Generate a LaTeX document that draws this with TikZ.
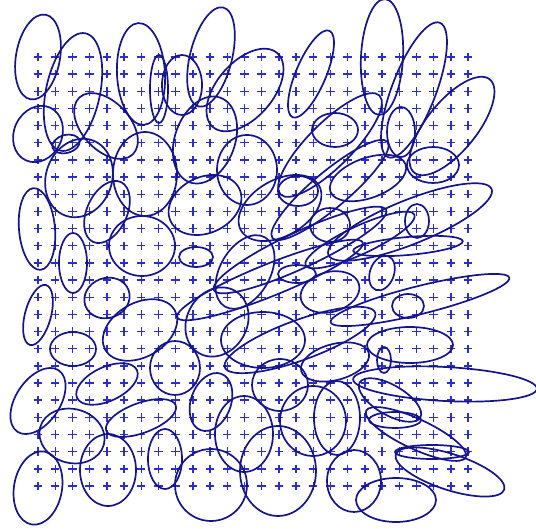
\documentclass[tikz,border=0pt]{standalone}
\usepackage{tikz}
\definecolor{plusblue}{RGB}{45,45,200}
\definecolor{ellnavy}{RGB}{20,20,140}
\tikzset{
  plusmark/.style={draw=plusblue, line width=1.4pt},
  ell/.style={draw=ellnavy, line width=1.7pt},
}
\newcommand{\E}[5]{\draw[ell, rotate around={-#5:(#1,#2)}] (#1,#2) ellipse [x radius=#3, y radius=#4];}
\begin{document}
\begin{tikzpicture}[x=1pt,y=-1pt]
\useasboundingbox (0,0) rectangle (536,529);
\foreach \i in {0,...,25}{
  \foreach \j in {0,...,25}{
    \draw[plusmark] ({38+17.2*\i-4.2},{57+17.16*\j}) -- ++(8.4,0)
                    ({38+17.2*\i},{57+17.16*\j-4.2}) -- ++(0,8.4);
  }
}
% top band
\E{38}{57}{22}{43}{10}
\E{73}{92}{27}{60}{12}
\E{38}{134}{24}{29}{25}
\E{106}{126}{39}{24}{47}
\E{141}{74}{24}{51}{-3}
\E{159}{89}{9}{34}{0}
\E{66}{144}{14}{9}{-15}
\E{79}{178}{33}{40}{20}
\E{145}{174}{32}{42}{0}
\E{182}{85}{20}{30}{0}
\E{211}{57}{21}{51}{14}
\E{245}{90}{49}{28}{-49}
\E{311}{74}{47}{15}{-67}
\E{335}{130}{23}{17}{0}
\E{382}{57}{21}{58}{3}
\E{414}{90}{72}{22}{-69}
\E{452}{126}{60}{25}{-51}
\E{401}{132}{14}{25}{0}
\E{433}{165}{26}{18}{0}
% middle band
\E{205}{140}{30}{45}{20}
\E{247}{170}{30}{35}{0}
\E{330}{145}{70}{22}{-45}
\E{330}{190}{75}{18}{-40}
\E{37}{229}{18}{41}{-5}
\E{73}{263}{14}{30}{0}
\E{38}{315}{13}{31}{15}
\E{107}{212}{20}{33}{25}
\E{142}{246}{33}{30}{0}
\E{107}{298}{23}{20}{-20}
\E{140}{330}{40}{27}{-30}
\E{73}{349}{23}{17}{0}
\E{205}{205}{38}{28}{-25}
\E{280}{208}{45}{28}{-30}
\E{298}{191}{20}{15}{0}
\E{330}{225}{20}{17}{0}
\E{196}{257}{17}{10}{0}
\E{245}{272}{25}{40}{30}
\E{297}{274}{19}{9}{0}
\E{330}{292}{30}{20}{-15}
\E{217}{322}{30}{36}{30}
\E{410}{222}{88}{22}{-22}
\E{417}{221}{12}{17}{0}
\E{408}{246}{55}{9}{-5}
\E{382}{273}{12}{18}{20}
\E{420}{300}{92}{14}{-14}
\E{408}{306}{16}{12}{0}
\E{410}{345}{43}{18}{0}
\E{300}{250}{95}{18}{-25}
\E{270}{280}{100}{16}{-22}
\E{300}{340}{80}{20}{-20}
\E{368}{178}{40}{20}{-20}
\E{175}{368}{25}{27}{0}
\E{335}{362}{35}{18}{-15}
\E{360}{240}{60}{14}{-25}
% lower band
\E{38}{401}{37}{22}{-56}
\E{38}{488}{24}{37}{10}
\E{72}{436}{33}{27}{15}
\E{107}{384}{33}{17}{-25}
\E{108}{470}{28}{36}{0}
\E{141}{418}{37}{15}{-20}
\E{211}{402}{20}{30}{20}
\E{280}{385}{28}{26}{0}
\E{244}{434}{29}{38}{0}
\E{278}{471}{38}{45}{0}
\E{211}{485}{36}{36}{0}
\E{313}{421}{33}{35}{0}
\E{337}{418}{23}{37}{0}
\E{445}{384}{92}{17}{3}
\E{395}{420}{26}{8}{0}
\E{432}{452}{37}{7}{0}
\E{450}{472}{57}{18}{18}
\E{416}{434}{55}{15}{25}
\E{390}{400}{35}{15}{30}
\E{384}{360}{7}{13}{0}
\E{396}{500}{40}{22}{0}
\E{165}{459}{17}{30}{0}
\E{263}{340}{42}{28}{0}
\E{354}{481}{27}{31}{0}
\end{tikzpicture}
\end{document}
